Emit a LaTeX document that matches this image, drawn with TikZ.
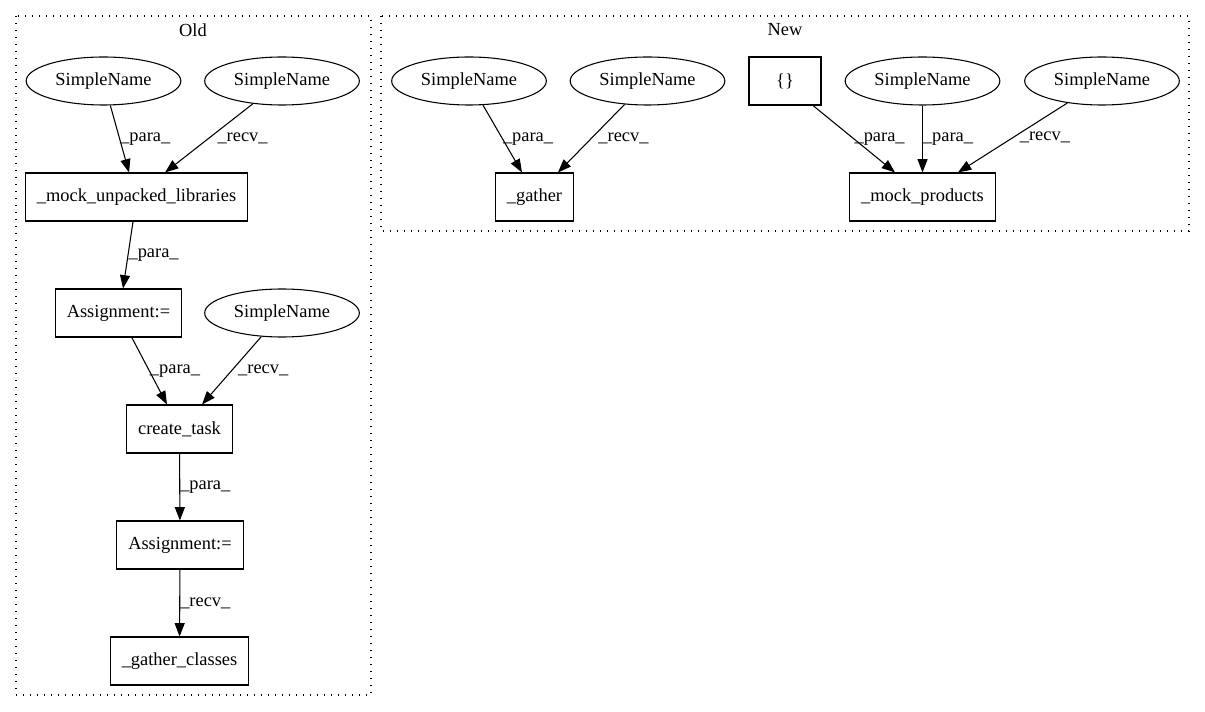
\documentclass[tikz,border=0pt]{standalone}
\usepackage{fontspec}
\setmainfont{Liberation Serif}
\usetikzlibrary{arrows.meta,shapes.geometric}
\usetikzlibrary{positioning}
\tikzstyle{sname} = [ellipse, draw=black, line width=0.8pt, minimum width=116pt, minimum height=36pt, inner sep=0pt]
\tikzstyle{op} = [rectangle, draw=black, line width=0.8pt, minimum width=54pt, minimum height=36pt, inner xsep=8.6pt]
\tikzstyle{edge} = [draw=black, line width=0.8pt, -{Triangle[length=10pt,width=7.5pt]}]
\tikzstyle{lbl} = [anchor=west, inner sep=0pt, pos=0.5]
\tikzstyle{cluster} = [draw=black, line width=0.8pt, dash pattern=on 1pt off 4.25pt]

\begin{document}
\begin{tikzpicture}[x=0.75pt, y=-0.75pt, font=\fontsize{13.8}{16}\selectfont]
 \useasboundingbox (0,0) rectangle (1205,712);

 \draw[cluster] (16,16) rectangle (371,695);
 \node (old) at (193,30) {Old};
 \draw[cluster] (381,16) rectangle (1189,231);
 \node (new) at (785,30) {New};

 \node (sa) [sname] at (103.5,81) {SimpleName};
 \node (sb) [sname] at (282,81) {SimpleName};
 \node (mul) [op] at (136.5,197) {\_mock\_unpacked\_libraries};
 \node (asg1) [op] at (118.5,313) {Assignment:=};
 \node (sc) [sname] at (282,313) {SimpleName};
 \node (ct) [op] at (179.5,429) {create\_task};
 \node (asg2) [op] at (180,545) {Assignment:=};
 \node (gc) [op] at (179.5,661) {\_gather\_classes};

 \draw[edge] (sa) -- node[lbl] {\_para\_} ([xshift=-5.6pt]mul.north);
 \draw[edge] (sb) -- node[lbl, xshift=6pt] {\_recv\_} ([xshift=21.4pt]mul.north);
 \draw[edge] ([xshift=-2.6pt]mul.south) -- node[lbl] {\_para\_} ([xshift=3.4pt]asg1.north);
 \draw[edge] ([xshift=10pt]asg1.south) -- node[lbl] {\_para\_} ([xshift=-9.4pt]ct.north);
 \draw[edge] (sc) -- node[lbl, xshift=4.5pt] {\_recv\_} ([xshift=16.9pt]ct.north);
 \draw[edge] (ct) -- node[lbl] {\_para\_} (asg2);
 \draw[edge] (asg2) -- node[lbl] {\_recv\_} (gc);

 \node (sn1) [sname] at (469,81) {SimpleName};
 \node (sn2) [sname] at (647.5,81) {SimpleName};
 \node (br) [op] at (785,81) {\{\}};
 \node (sn3) [sname] at (922.5,81) {SimpleName};
 \node (sn4) [sname] at (1102,81) {SimpleName};
 \node (gat) [op] at (534.5,197) {\_gather};
 \node (mp) [op] at (922.5,197) {\_mock\_products};

 \draw[edge] (sn1) -- node[lbl] {\_para\_} ([xshift=-9.4pt]gat.north);
 \draw[edge] (sn2) -- node[lbl, xshift=5pt] {\_recv\_} ([xshift=17.6pt]gat.north);
 \draw[edge] ([xshift=21pt]br.south) -- node[lbl] {\_para\_} ([xshift=-20.6pt]mp.north);
 \draw[edge] (sn3) -- node[lbl] {\_para\_} (mp);
 \draw[edge] (sn4) -- node[lbl, xshift=5pt] {\_recv\_} ([xshift=26.6pt]mp.north);
\end{tikzpicture}
\end{document}
